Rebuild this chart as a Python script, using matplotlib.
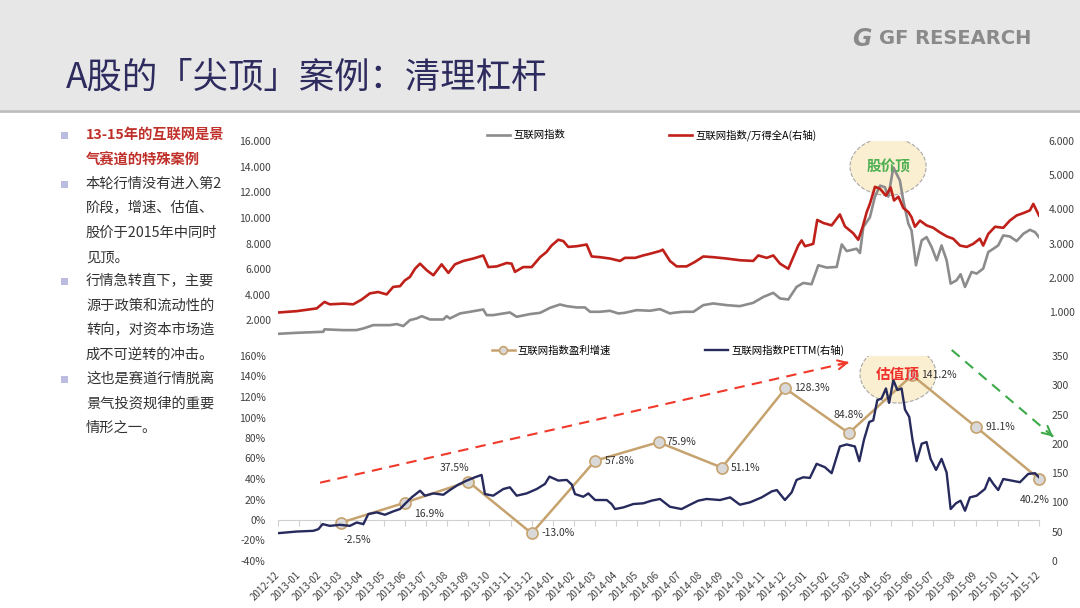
import pandas as pd
import matplotlib
matplotlib.use('Agg')
import matplotlib.pyplot as plt
from matplotlib.patches import Ellipse, Rectangle
from matplotlib.lines import Line2D

plt.rcParams['font.family'] = ['Noto Sans CJK SC', 'DejaVu Sans']

# ---- data (x = months since 2012-12) ----
months = [str(p) for p in pd.period_range('2012-12', '2015-12', freq='M')]

gray_m = [
    0.0, 0.88, 2.14, 2.2, 3.09, 3.7, 4.04, 4.51, 5.3, 5.61,
    5.93, 6.24, 6.56, 6.8, 7.19, 7.82, 7.98, 8.13, 8.61, 9.08,
    9.71, 9.87, 10.18, 10.66, 10.97, 11.29, 11.92, 12.4, 12.87, 13.34,
    13.66, 14.13, 14.52, 14.76, 15.23, 15.7, 16.1, 16.4, 16.97, 17.6,
    18.07, 18.54, 18.7, 19.17, 19.65, 20.12, 20.59, 21.22, 21.85, 22.48,
    22.96, 23.43, 23.75, 24.14, 24.53, 24.85, 25.24, 25.56, 25.96, 26.43,
    26.67, 26.9, 27.37, 27.53, 27.69, 28.0, 28.24, 28.48, 28.71, 28.87,
    29.11, 29.42, 29.58, 29.82, 29.97, 30.18, 30.45, 30.68, 30.92, 31.16,
    31.39, 31.63, 31.82, 32.1, 32.29, 32.5, 32.81, 33.05, 33.36, 33.6,
    33.84, 34.07, 34.31, 34.62, 34.94, 35.26, 35.57, 35.81, 36.0]
gray_v = [
    950, 1030, 1110, 1300, 1240, 1240, 1370, 1630, 1630, 1710,
    1560, 2020, 2150, 2330, 2070, 2070, 2330, 2150, 2540, 2670,
    2850, 2410, 2410, 2540, 2620, 2280, 2490, 2590, 2980, 3240,
    3110, 3010, 3010, 2670, 2670, 2750, 2540, 2590, 2800, 2750,
    2880, 2540, 2590, 2670, 2670, 3190, 3320, 3190, 3110, 3370,
    3830, 4150, 3710, 3630, 4610, 4920, 4820, 6300, 6120, 6170,
    7930, 7410, 7590, 7260, 9280, 10050, 11660, 12520, 12390, 11660,
    13940, 12910, 11350, 9540, 9020, 6300, 8240, 8500, 7720, 6690,
    7850, 6690, 4870, 5130, 5600, 4610, 5780, 5650, 6040, 7330,
    7590, 7850, 8630, 8550, 8190, 8760, 9070, 8890, 8500]

red_m = [
    0.0, 0.88, 1.83, 2.2, 2.45, 3.09, 3.56, 3.96, 4.35, 4.74,
    5.14, 5.45, 5.77, 6.0, 6.24, 6.48, 6.72, 7.03, 7.35, 7.74,
    8.06, 8.37, 8.77, 9.24, 9.71, 9.95, 10.35, 10.82, 11.05, 11.21,
    11.6, 12.0, 12.4, 12.7, 12.94, 13.26, 13.5, 13.73, 14.13, 14.6,
    14.84, 15.23, 15.7, 16.18, 16.41, 16.9, 17.27, 17.6, 18.07, 18.2,
    18.54, 18.86, 19.33, 19.72, 20.12, 20.59, 21.22, 21.85, 22.48, 22.72,
    23.12, 23.43, 23.75, 24.14, 24.41, 24.61, 24.77, 24.93, 25.32, 25.51,
    25.8, 26.19, 26.58, 26.82, 27.21, 27.45, 27.66, 27.85, 28.0, 28.24,
    28.48, 28.76, 28.98, 29.14, 29.35, 29.58, 29.82, 29.97, 30.13, 30.37,
    30.68, 31.0, 31.3, 31.63, 31.94, 32.26, 32.58, 32.89, 33.2, 33.36,
    33.6, 33.92, 34.31, 34.62, 34.94, 35.26, 35.57, 35.73, 36.0]
red_v = [
    0.98, 1.02, 1.10, 1.29, 1.22, 1.24, 1.22, 1.36, 1.54, 1.58,
    1.51, 1.73, 1.75, 1.92, 2.02, 2.26, 2.41, 2.22, 2.07, 2.39,
    2.14, 2.39, 2.49, 2.56, 2.65, 2.31, 2.33, 2.43, 2.41, 2.17,
    2.31, 2.31, 2.60, 2.75, 2.94, 3.11, 3.07, 2.90, 2.92, 2.97,
    2.62, 2.60, 2.56, 2.49, 2.58, 2.58, 2.65, 2.70, 2.78, 2.82,
    2.49, 2.33, 2.33, 2.46, 2.62, 2.60, 2.56, 2.51, 2.49, 2.65,
    2.58, 2.65, 2.41, 2.26, 2.65, 2.94, 3.09, 2.92, 2.99, 3.69,
    3.60, 3.53, 3.85, 3.50, 3.30, 3.11, 3.49, 3.92, 4.16, 4.66,
    4.60, 4.40, 4.64, 4.26, 4.37, 4.04, 3.92, 3.77, 3.49, 3.67,
    3.53, 3.46, 3.33, 3.21, 3.14, 2.94, 2.90, 2.99, 3.14, 2.94,
    3.28, 3.49, 3.46, 3.67, 3.82, 3.89, 3.97, 4.16, 3.82]

pe_m = [
    0.0, 0.88, 1.67, 1.91, 2.11, 2.45, 2.93, 3.4, 3.72, 4.04,
    4.27, 4.67, 5.06, 5.45, 5.77, 6.0, 6.32, 6.72, 6.95, 7.35,
    7.82, 8.13, 8.53, 8.93, 9.32, 9.63, 9.79, 10.18, 10.66, 10.97,
    11.29, 11.76, 12.24, 12.63, 12.84, 13.26, 13.66, 13.9, 14.05, 14.44,
    14.68, 15.0, 15.55, 15.78, 15.94, 16.34, 16.81, 17.28, 17.67, 18.07,
    18.54, 19.09, 19.49, 19.88, 20.28, 20.91, 21.39, 21.85, 22.33, 22.88,
    23.36, 23.6, 23.98, 24.3, 24.53, 24.85, 25.16, 25.48, 25.87, 26.19,
    26.58, 26.9, 27.29, 27.5, 27.72, 27.97, 28.16, 28.35, 28.55, 28.76,
    28.91, 29.11, 29.3, 29.5, 29.66, 29.86, 30.02, 30.21, 30.45, 30.68,
    30.87, 31.13, 31.39, 31.63, 31.82, 32.07, 32.29, 32.5, 32.73, 33.05,
    33.44, 33.65, 33.84, 34.07, 34.31, 34.7, 35.1, 35.49, 35.81, 36.0]
pe_v = [
    47.5, 50.3, 51.5, 54.3, 63.0, 60.0, 61.8, 60.0, 65.7, 63.0,
    80.1, 83.0, 79.0, 84.7, 88.7, 97.3, 108.6, 120.0, 111.5, 115.4,
    113.1, 121.1, 130.4, 137.3, 143.0, 147.0, 114.3, 111.5, 122.9, 125.8,
    111.5, 115.4, 122.9, 131.6, 144.1, 137.3, 138.4, 130.4, 114.3, 109.7,
    115.4, 104.1, 104.1, 97.3, 88.7, 91.5, 97.3, 98.5, 103.0, 105.9,
    92.6, 88.7, 96.1, 103.0, 105.9, 104.1, 108.6, 96.1, 100.2, 108.6,
    118.9, 121.1, 104.1, 117.2, 138.4, 143.0, 141.8, 165.9, 160.2, 149.9,
    195.6, 199.0, 195.6, 170.4, 207.0, 237.3, 240.2, 274.6, 277.4, 294.6,
    270.0, 308.9, 291.8, 294.6, 258.6, 246.1, 206.0, 170.4, 200.2, 203.1,
    174.4, 155.5, 174.4, 151.0, 88.7, 98.5, 103.0, 85.8, 108.6, 111.5,
    122.9, 141.8, 131.6, 121.1, 140.0, 137.3, 134.5, 148.7, 149.9, 143.0]

eg_m = [3, 6, 9, 12, 15, 18, 21, 24, 27, 30, 33, 36]
eg_v = [-2.5, 16.9, 37.5, -13.0, 57.8, 75.9, 51.1, 128.3, 84.8, 141.2, 91.1, 40.2]
# label offsets in pixels (dx, dy down)
eg_off = [(16, 17), (24, 11), (-14, -14), (26, 0), (25, 0), (23, 0),
          (24, 0), (27, 0), (0, -18), (27, 0), (25, 0), (-4, 21)]

bullet_text = [
    '13-15年的互联网是景', '气赛道的特殊案例',
    '本轮行情没有进入第2', '阶段，增速、估值、', '股价于2015年中同时', '见顶。',
    '行情急转直下，主要', '源于政策和流动性的', '转向，对资本市场造', '成不可逆转的冲击。',
    '这也是赛道行情脱离', '景气投资规律的重要', '情形之一。']
bullet_starts = [0, 2, 6, 10]

GRAY = '#8C8C8C'
RED = '#BF2019'
NAVY = '#262A5C'
TAN = '#C6A36E'
TXT = '#404040'

W, H = 1080, 608
fig = plt.figure(figsize=(10.8, 6.08), dpi=100)


def fx(x):
    return x / W


def fy(y):
    return 1 - y / H


# header
fig.patches.append(Rectangle((0, fy(110)), 1, 110 / H, transform=fig.transFigure,
                             facecolor='#E7E7E7', edgecolor='none', zorder=0))
fig.add_artist(Line2D([0, 1], [fy(111), fy(111)], color='#BDBDBD', lw=2))
fig.text(fx(66), fy(78), 'A股的「尖顶」案例：清理杠杆', fontsize=25.5, color='#2E2B5F',
         va='center', ha='left')
fig.text(fx(852), fy(39), 'G', fontsize=17, fontweight='bold', fontstyle='italic',
         color='#8A8A8A', va='center', ha='left', family='DejaVu Sans')
fig.text(fx(879), fy(39), 'GF RESEARCH', fontsize=14, fontweight='bold', color='#8A8A8A',
         va='center', ha='left', family='DejaVu Sans')

# left text
for i, line in enumerate(bullet_text):
    y = 135 + i * 24.4
    first = i < 2
    fig.text(fx(86), fy(y), line, fontsize=10.3, va='center', ha='left',
             color='#C0312B' if first else '#333333',
             fontweight='bold' if first else 'normal')
    if i in bullet_starts:
        fig.patches.append(Rectangle((fx(61), fy(y + 4)), 7 / W, 7 / H,
                                     transform=fig.transFigure,
                                     facecolor='#BBBCE0', edgecolor='none'))

# ---- top chart ----
ax1 = fig.add_axes([fx(278), fy(346), (1039 - 278) / W, (346 - 141) / H])
ax1r = ax1.twinx()
ax1.set_xlim(0, 36)
ax1.set_ylim(0, 16000)
ax1r.set_ylim(0, 6)

ax1.add_patch(Ellipse((28.86, 14000), 3.6, 4500, facecolor='#FBEFD2',
                      edgecolor='#A8A8A8', linestyle='--', lw=0.8, zorder=1))
l_gray, = ax1.plot(gray_m, gray_v, color=GRAY, lw=1.9, zorder=2, label='互联网指数')
l_red, = ax1r.plot(red_m, red_v, color=RED, lw=1.9, label='互联网指数/万得全A(右轴)')
ax1r.text(28.86, 14000, '股价顶', transform=ax1.transData, ha='center', va='center',
          fontsize=10.5, fontweight='bold', color='#4CAF50')

ax1.set_xticks([])
ax1.set_yticks(range(2000, 16001, 2000))
ax1.set_yticklabels([f'{v:,.0f}'.replace(',', '.') for v in range(2000, 16001, 2000)])
ax1r.set_yticks([1, 2, 3, 4, 5, 6])
ax1r.set_yticklabels([f'{v:.3f}' for v in [1, 2, 3, 4, 5, 6]])
ax1.tick_params(axis='y', length=0, pad=5, labelsize=7.5, labelcolor=TXT)
ax1r.tick_params(axis='y', length=0, pad=7, labelsize=7.5, labelcolor=TXT)
for a in (ax1, ax1r):
    for s in a.spines.values():
        s.set_visible(False)

fig.legend([l_gray, l_red], [l_gray.get_label(), l_red.get_label()], loc='center',
           bbox_to_anchor=(fx(652), fy(135)), ncol=2, frameon=False, fontsize=7.5,
           handlelength=2.2, handletextpad=0.3, columnspacing=10)

# ---- bottom chart ----
ax2 = fig.add_axes([fx(278), fy(561), (1039 - 278) / W, (561 - 356) / H])
ax2r = ax2.twinx()
ax2.set_xlim(0, 36)
ax2.set_ylim(-40, 160)
ax2r.set_ylim(0, 350)

ax2.add_patch(Ellipse((29.33, 142.4), 3.6, 56.6, facecolor='#FBEFD2',
                      edgecolor='#A8A8A8', linestyle='--', lw=0.8, zorder=1))
l_tan, = ax2.plot(eg_m, eg_v, color=TAN, lw=1.8, marker='o', markersize=8,
                  markerfacecolor='#D9D9D9', markeredgecolor=TAN, markeredgewidth=1.2,
                  zorder=3, clip_on=False, label='互联网指数盈利增速')
l_navy, = ax2r.plot(pe_m, pe_v, color=NAVY, lw=1.7, label='互联网指数PETTM(右轴)')
ax2r.text(29.33, 142.4, '估值顶', transform=ax2.transData, ha='center', va='center',
          fontsize=10.5, fontweight='bold', color='#F0302A')

for m, v, (dx, dy) in zip(eg_m, eg_v, eg_off):
    ax2r.annotate(f'{v:.1f}%', xy=(m, v), xycoords=ax2.transData,
                  xytext=(dx * 0.72, -dy * 0.72), textcoords='offset points',
                  ha='center', va='center', fontsize=7.5, color='#333333',
                  annotation_clip=False)

# trend arrows
red_start, red_end = (1.99, 36.4), (27.14, 154.5)
green_start, green_end = (31.87, 165.9), (36.67, 81.3)
for (s, e, c) in [(red_start, red_end, '#F0392B'), (green_start, green_end, '#3DAA4A')]:
    ax2.plot([s[0], e[0]], [s[1], e[1]], color=c, lw=1.5, ls=(0, (5, 3.5)),
             clip_on=False, zorder=4)
    near = (e[0] - 0.03 * (e[0] - s[0]), e[1] - 0.03 * (e[1] - s[1]))
    ax2.annotate('', xy=e, xytext=near, annotation_clip=False,
                 arrowprops=dict(arrowstyle='->', color=c, lw=1.5, mutation_scale=16))

ax2.set_yticks(range(-40, 161, 20))
ax2.set_yticklabels([f'{v}%' for v in range(-40, 161, 20)])
ax2r.set_yticks(range(0, 351, 50))
ax2.tick_params(axis='y', length=0, pad=9, labelsize=7.5, labelcolor=TXT)
ax2r.tick_params(axis='y', length=0, pad=9, labelsize=7.5, labelcolor=TXT)

ax2.spines['bottom'].set_position(('data', 0))
ax2.spines['bottom'].set_color('#D0D0D0')
for s in ('top', 'left', 'right'):
    ax2.spines[s].set_visible(False)
for s in ax2r.spines.values():
    s.set_visible(False)
ax2.set_xticks(range(len(months)))
ax2.tick_params(axis='x', length=4, color='#D0D0D0', labelbottom=False)

sec = ax2.secondary_xaxis('bottom')
sec.set_xticks(range(len(months)))
sec.set_xticklabels(months, rotation=45, ha='right', va='center',
                    rotation_mode='anchor', fontsize=7, color=TXT)
sec.tick_params(length=0, pad=9)
sec.spines['bottom'].set_visible(False)

fig.legend([l_tan, l_navy], [l_tan.get_label(), l_navy.get_label()], loc='center',
           bbox_to_anchor=(fx(668), fy(350)), ncol=2, frameon=False, fontsize=7.5,
           handlelength=2.2, handletextpad=0.3, columnspacing=9, markerscale=0.7)

fig.savefig('out.png', dpi=100, facecolor='white')
